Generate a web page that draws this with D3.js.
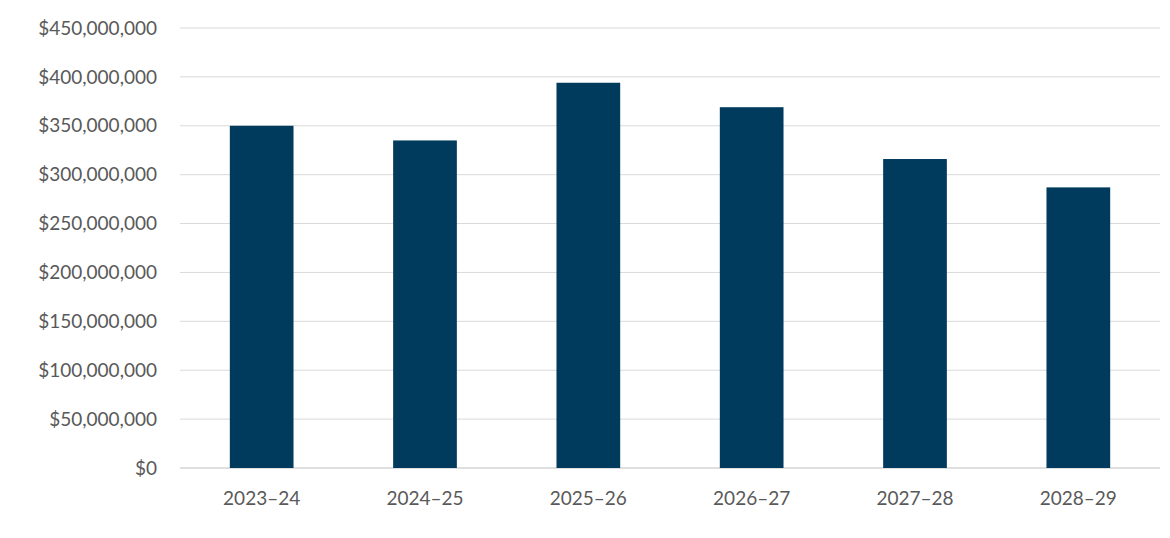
<!DOCTYPE html>
<html><head><meta charset="utf-8">
<script src="https://cdn.jsdelivr.net/npm/d3@7"></script>
<style>body{margin:0;background:#fff}</style></head>
<body><svg id="c" width="1170" height="538"></svg>
<script>
const categories = ["2023–24","2024–25","2025–26","2026–27","2027–28","2028–29"];
const values = [350000000,335000000,394000000,369000000,316000000,287000000];
const tickValues = [0,50000000,100000000,150000000,200000000,250000000,300000000,350000000,400000000,450000000];

const svg = d3.select("#c");
const m = {l:180, r:10, t:28, b:70};
const W = 1170, H = 538;
const x = d3.scaleBand().domain(categories).range([m.l, W-m.r]).paddingInner(0.61).paddingOuter(0.305);
const y = d3.scaleLinear().domain([0,450000000]).range([H-m.b, m.t]);
const font = "Lato, 'Open Sans', sans-serif";

svg.append("g").selectAll("line").data(tickValues).join("line")
  .attr("x1", m.l).attr("x2", W-m.r)
  .attr("y1", d=>y(d)).attr("y2", d=>y(d))
  .attr("stroke", d=>d===0?"#bfbfbf":"#d9d9d9").attr("stroke-width",1);

svg.append("g").selectAll("text").data(tickValues).join("text")
  .attr("x", 157).attr("y", d=>y(d)).attr("dy","0.35em")
  .attr("text-anchor","end").attr("fill","#595959")
  .style("font-family",font).style("font-size","19px")
  .text(d=>"$"+d3.format(",")(d));

svg.append("g").selectAll("rect").data(values).join("rect")
  .attr("x",(d,i)=>x(categories[i])).attr("width",x.bandwidth())
  .attr("y",d=>y(d)).attr("height",d=>y(0)-y(d))
  .attr("fill","#003a5d");

svg.append("g").selectAll("text").data(categories).join("text")
  .attr("x",d=>x(d)+x.bandwidth()/2).attr("y",y(0)+37)
  .attr("text-anchor","middle").attr("fill","#595959")
  .style("font-family",font).style("font-size","19px")
  .text(d=>d);
</script></body></html>
